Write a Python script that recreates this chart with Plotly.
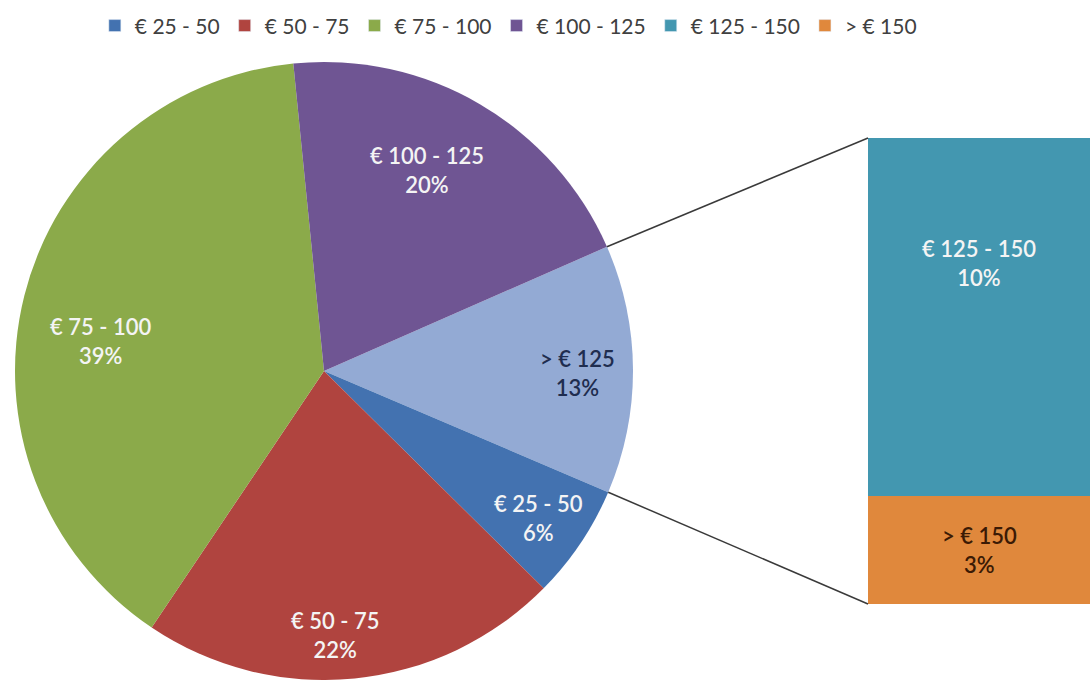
import math
import plotly.graph_objects as go

# ---- data ----
pie_labels = ["> € 125", "€ 25 - 50", "€ 50 - 75", "€ 75 - 100", "€ 100 - 125"]
pie_values = [13, 6, 22, 39, 20]
bar_labels = ["> € 150", "€ 125 - 150"]   # bottom to top
bar_values = [3, 10]
legend_labels = ["€ 25 - 50", "€ 50 - 75", "€ 75 - 100", "€ 100 - 125", "€ 125 - 150", "> € 150"]

# ---- styles ----
pie_colors = ["#93AAD4", "#4372B0", "#B0443F", "#8BAA4A", "#6F5593"]
pie_text_colors = ["#1F2D4F", "#F4F4F4", "#F4F4F4", "#F4F4F4", "#F4F4F4"]
pie_label_radius = [0.82, 0.84, 0.855, 0.73, 0.73]   # label distance (fraction of radius)
pie_label_nudge = [0.7, 0.5, 3.4, -6.5, -3.1]          # label angle nudge (deg)
bar_colors = ["#E0883C", "#4397B0"]
bar_text_colors = ["#3B1A05", "#F4F4F4"]
bar_label_frac = [0.5, 0.65]
legend_colors = ["#4372B0", "#B0443F", "#8BAA4A", "#6F5593", "#4397B0", "#E0883C"]

W, H = 1090, 680
FONT = "Lato"
LABEL_SIZE = 22
LEGEND_SIZE = 21
cx, cy, r = 324, 371, 309          # pie centre / radius in px
rotation = 66.3                    # start angle of first slice (deg clockwise from 12 o'clock)
bar_x0 = 868
bar_top, bar_bot = 138, 604

fig = go.Figure()

fig.add_trace(go.Pie(
    labels=pie_labels, values=pie_values, sort=False, direction="clockwise",
    rotation=rotation, marker=dict(colors=pie_colors, line=dict(width=0)),
    textinfo="none", hoverinfo="label+percent", showlegend=False,
    domain=dict(x=[(cx - r) / W, (cx + r) / W], y=[(H - cy - r) / H, (H - cy + r) / H]),
))

# stacked bar (pie of bar)
for lab, val, col in zip(bar_labels, bar_values, bar_colors):
    fig.add_trace(go.Bar(
        x=[0], y=[val], name=lab, marker=dict(color=col, line=dict(width=0)),
        width=1, showlegend=False, xaxis="x", yaxis="y", hoverinfo="name+y",
    ))

# legend entries
for i, (lab, col) in enumerate(zip(legend_labels, legend_colors)):
    fig.add_trace(go.Bar(x=[None], y=[None], name=lab, marker=dict(color=col),
                         showlegend=True, legendrank=i + 1, xaxis="x", yaxis="y"))

def to_paper(angle_deg, frac):
    a = math.radians(angle_deg)
    px = cx + frac * r * math.sin(a)
    py = cy - frac * r * math.cos(a)
    return px / W, 1 - py / H

# pie labels
total = sum(pie_values)
ang = rotation
annotations = []
bounds = []
for lab, val, tc, rf, nd in zip(pie_labels, pie_values, pie_text_colors,
                                pie_label_radius, pie_label_nudge):
    span = 360 * val / total
    bounds.append((ang, ang + span))
    mx, my = to_paper(ang + span / 2 + nd, rf)
    annotations.append(dict(
        x=mx, y=my, xref="paper", yref="paper", xanchor="center", yanchor="middle",
        showarrow=False, text=f"{lab}<br>{round(100 * val / total)}%",
        font=dict(family=FONT, size=LABEL_SIZE, color=tc, weight=600), align="center",
    ))
    ang += span

# bar labels
base = 0
for lab, val, tc, fr in zip(bar_labels, bar_values, bar_text_colors, bar_label_frac):
    annotations.append(dict(
        x=0, y=base + val * fr, xref="x", yref="y", xanchor="center", yanchor="middle",
        showarrow=False, text=f"{lab}<br>{round(100 * val / total)}%",
        font=dict(family=FONT, size=LABEL_SIZE, color=tc, weight=600), align="center",
    ))
    base += val
btotal = base

# connector lines from the ">€125" slice to the bar
s0, s1 = bounds[0]
p0 = to_paper(s0, 1.0)
p1 = to_paper(s1, 1.0)
shapes = [
    dict(type="line", xref="paper", yref="paper", x0=p0[0], y0=p0[1],
         x1=bar_x0 / W, y1=1 - bar_top / H, line=dict(color="#3A3A3A", width=1.5)),
    dict(type="line", xref="paper", yref="paper", x0=p1[0], y0=p1[1],
         x1=bar_x0 / W, y1=1 - bar_bot / H, line=dict(color="#3A3A3A", width=1.5)),
]

fig.update_layout(
    width=W, height=H, margin=dict(l=0, r=0, t=0, b=0),
    paper_bgcolor="white", plot_bgcolor="rgba(0,0,0,0)",
    barmode="stack", bargap=0,
    font=dict(family=FONT, size=LEGEND_SIZE, color="#404040"),
    xaxis=dict(domain=[bar_x0 / W, 1], range=[-0.5, 0.5], visible=False, fixedrange=True),
    yaxis=dict(domain=[1 - bar_bot / H, 1 - bar_top / H], range=[0, btotal], visible=False, fixedrange=True),
    legend=dict(orientation="h", x=0.087, y=0.992, xanchor="left", yanchor="top",
                traceorder="normal", itemwidth=30,
                font=dict(family=FONT, size=LEGEND_SIZE, color="#404040"),
                bgcolor="rgba(0,0,0,0)"),
    annotations=annotations, shapes=shapes,
)

fig.write_html("out.html", config={"displayModeBar": False},
               post_script="document.body.style.margin='0';")
